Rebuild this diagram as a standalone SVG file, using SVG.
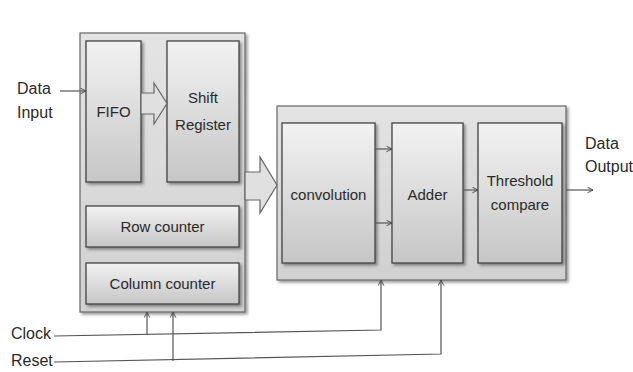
<svg xmlns="http://www.w3.org/2000/svg" width="633" height="372" viewBox="0 0 633 372">
<defs>
<linearGradient id="gin" x1="0" y1="0" x2="0" y2="1">
<stop offset="0" stop-color="#f2f2f2"/>
<stop offset="1" stop-color="#c6c6c6"/>
</linearGradient>
<linearGradient id="gout" x1="0" y1="0" x2="0" y2="1">
<stop offset="0" stop-color="#e4e4e4"/>
<stop offset="1" stop-color="#d0d0d0"/>
</linearGradient>
<filter id="sh" x="-10%" y="-10%" width="130%" height="130%">
<feDropShadow dx="2" dy="2" stdDeviation="1.5" flood-color="#000" flood-opacity="0.4"/>
</filter>
<marker id="ah" viewBox="0 0 10 10" refX="9" refY="5" markerWidth="7" markerHeight="7" orient="auto" markerUnits="userSpaceOnUse">
<path d="M1,1 L9,5 L1,9" fill="none" stroke="#444" stroke-width="1.3"/>
</marker>
</defs>
<style>
.outer{fill:url(#gout);stroke:#666;stroke-width:1.2;filter:url(#sh)}
.inner{fill:url(#gin);stroke:#444;stroke-width:1.3;filter:url(#sh)}
.t{font-family:"Liberation Sans","Open Sans",sans-serif;font-size:15px;fill:#2a2a2a;text-anchor:middle}
.lbl{font-family:"Liberation Sans","Open Sans",sans-serif;font-size:16px;fill:#2a2a2a}
.ln{fill:none;stroke:#555;stroke-width:1.2}
.blk{fill:#e0e0e0;stroke:#666;stroke-width:1.2}
</style>
<g id="left-box"><rect class="outer" x="80" y="33" width="165" height="279"/></g>
<g id="right-box"><rect class="outer" x="277" y="106" width="289" height="174"/></g>
<g id="fifo"><rect class="inner" x="86" y="41" width="55" height="141"/><text class="t" x="113.5" y="117">FIFO</text></g>
<g id="shift-register"><rect class="inner" x="167" y="41" width="72" height="141"/><text class="t" x="203" y="103">Shift</text><text class="t" x="203" y="130">Register</text></g>
<g id="row-counter"><rect class="inner" x="86" y="206" width="153" height="41"/><text class="t" x="162.5" y="232">Row counter</text></g>
<g id="column-counter"><rect class="inner" x="86" y="263" width="153" height="41"/><text class="t" x="162.5" y="289">Column counter</text></g>
<g id="convolution"><rect class="inner" x="282" y="123" width="93" height="140"/><text class="t" x="328.5" y="200">convolution</text></g>
<g id="adder"><rect class="inner" x="392" y="123" width="71" height="140"/><text class="t" x="427.5" y="200">Adder</text></g>
<g id="threshold"><rect class="inner" x="478" y="123" width="84" height="140"/><text class="t" x="520" y="186">Threshold</text><text class="t" x="520" y="210">compare</text></g>
<g id="labels">
<text class="lbl" x="17" y="94">Data</text>
<text class="lbl" x="17" y="118">Input</text>
<text class="lbl" x="585" y="149">Data</text>
<text class="lbl" x="585" y="172">Output</text>
<text class="lbl" x="11" y="339">Clock</text>
<text class="lbl" x="11" y="366">Reset</text>
</g>
<g id="connectors">
<path class="blk" d="M141,93 H154 V83 L167,103.5 L154,124 V114 H141 Z"/>
<path class="blk" d="M245,172 H260 V157 L277,185 L260,213 V200 H245 Z"/>
<line class="ln" x1="60" y1="91" x2="86" y2="91" marker-end="url(#ah)"/>
<line class="ln" x1="375" y1="149" x2="392" y2="149" marker-end="url(#ah)"/>
<line class="ln" x1="375" y1="223" x2="392" y2="223" marker-end="url(#ah)"/>
<line class="ln" x1="463" y1="190" x2="478" y2="190" marker-end="url(#ah)"/>
<line class="ln" x1="566" y1="190" x2="593" y2="190" marker-end="url(#ah)"/>
<polyline class="ln" points="54,336 381,330 381,280" marker-end="url(#ah)"/>
<polyline class="ln" points="54,362 441,354 441,280" marker-end="url(#ah)"/>
<line class="ln" x1="147" y1="335" x2="147" y2="312" marker-end="url(#ah)"/>
<line class="ln" x1="173" y1="361" x2="173" y2="312" marker-end="url(#ah)"/>
</g>
</svg>
